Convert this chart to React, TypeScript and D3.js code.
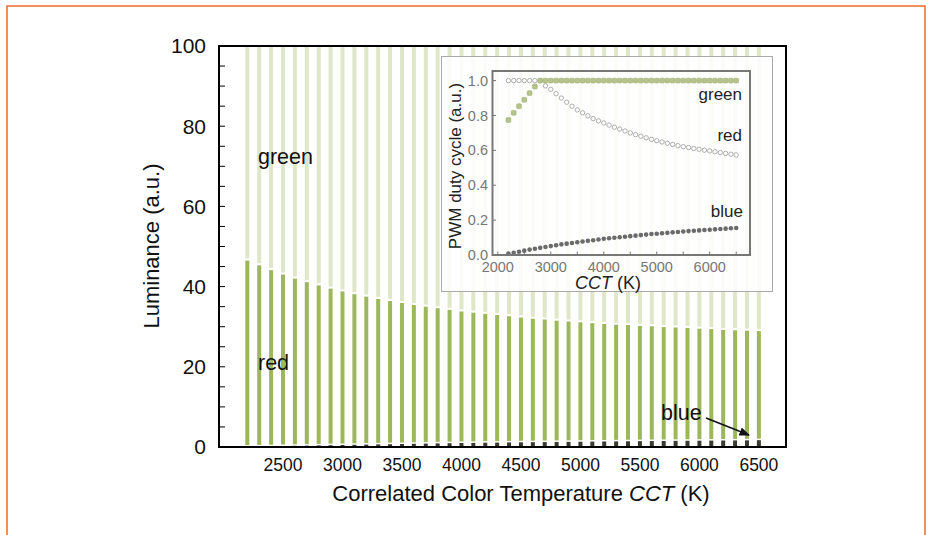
import React from 'react'
import * as d3 from 'd3'

// CCT categories (K), one bar / one marker each
const cct = [
  2200, 2300, 2400, 2500, 2600, 2700, 2800, 2900, 3000, 3100, 3200,
  3300, 3400, 3500, 3600, 3700, 3800, 3900, 4000, 4100, 4200, 4300,
  4400, 4500, 4600, 4700, 4800, 4900, 5000, 5100, 5200, 5300, 5400,
  5500, 5600, 5700, 5800, 5900, 6000, 6100, 6200, 6300, 6400, 6500
]

// luminance share of each LED (a.u.), green is the rest up to 100
const blueLum = [
  0.1, 0.15, 0.2, 0.25, 0.3, 0.35, 0.4, 0.45, 0.5, 0.55, 0.6,
  0.65, 0.7, 0.75, 0.8, 0.85, 0.9, 0.95, 1.0, 1.03, 1.07, 1.1,
  1.14, 1.17, 1.2, 1.23, 1.26, 1.29, 1.32, 1.35, 1.38, 1.4, 1.43,
  1.46, 1.48, 1.5, 1.53, 1.55, 1.57, 1.6, 1.62, 1.64, 1.66, 1.7
]
const redLum = [
  46.4, 45.15, 43.9, 42.75, 41.7, 40.75, 39.9, 39.05, 38.3, 37.55, 36.9,
  36.25, 35.7, 35.15, 34.6, 34.15, 33.7, 33.25, 32.8, 32.47, 32.13, 31.8,
  31.46, 31.13, 30.8, 30.57, 30.24, 30.01, 29.78, 29.55, 29.32, 29.1, 28.97,
  28.74, 28.62, 28.4, 28.27, 28.15, 27.93, 27.8, 27.58, 27.46, 27.34, 27.2
]

// inset: PWM duty cycles
const dutyGreen = [
  0.774, 0.815, 0.853, 0.89, 0.928, 0.966, 1, 1, 1, 1, 1,
  1, 1, 1, 1, 1, 1, 1, 1, 1, 1, 1,
  1, 1, 1, 1, 1, 1, 1, 1, 1, 1, 1,
  1, 1, 1, 1, 1, 1, 1, 1, 1, 1, 1
]
const dutyRed = [
  1, 1, 1, 1, 1, 1, 1, 0.97, 0.95, 0.925, 0.9,
  0.876, 0.853, 0.832, 0.815, 0.798, 0.782, 0.769, 0.757, 0.745, 0.733, 0.722,
  0.711, 0.7, 0.69, 0.681, 0.672, 0.663, 0.655, 0.648, 0.641, 0.634, 0.627,
  0.621, 0.616, 0.611, 0.606, 0.601, 0.597, 0.592, 0.587, 0.583, 0.578, 0.574
]
const dutyBlue = [
  0.008, 0.013, 0.019, 0.025, 0.031, 0.036, 0.041, 0.046, 0.051, 0.056, 0.061,
  0.065, 0.069, 0.073, 0.077, 0.081, 0.085, 0.089, 0.093, 0.096, 0.099, 0.102,
  0.105, 0.108, 0.111, 0.114, 0.117, 0.12, 0.122, 0.125, 0.127, 0.13, 0.132,
  0.135, 0.137, 0.139, 0.141, 0.143, 0.145, 0.147, 0.149, 0.151, 0.153, 0.155
]

const xTicks = [2500, 3000, 3500, 4000, 4500, 5000, 5500, 6000, 6500]
const yTicks = [0, 20, 40, 60, 80, 100]
const insetXTicks = [2000, 3000, 4000, 5000, 6000]
const insetYTicks = [0, 0.2, 0.4, 0.6, 0.8, 1.0]

const FONT = '"Liberation Sans", Arial, Helvetica, sans-serif'
const C_RED = '#9db85a'
const C_GREEN = '#dfe7c8'
const C_BLUE = '#3a3b30'

const App = () => {
  // main plot
  const x = d3.scaleLinear().domain([1962, 6728]).range([219, 786])
  const y = d3.scaleLinear().domain([0, 100]).range([447, 46])
  const barW = 4

  // inset plot
  const ix = d3.scaleLinear().domain([1900, 6760]).range([492.5, 750])
  const iy = d3.scaleLinear().domain([0, 1.055]).range([255, 71])
  const fmt = d3.format('.1f')

  return (
    <svg width={930} height={535} style={{position: 'absolute', left: 0, top: 0}}
      fontFamily={FONT}>
      <rect width={930} height={535} fill="#fff" />
      <path d="M7,540 V6 H925 V540" fill="none" stroke="#f26a2b" strokeWidth={1.5} />

      {/* stacked bars */}
      {cct.map((c, i) => {
        const b = blueLum[i]
        const r = redLum[i]
        const cx = x(c) - barW / 2
        return (
          <g key={c}>
            <rect x={cx} y={y(b)} width={barW} height={y(0) - y(b)} fill={C_BLUE} />
            <rect x={cx} y={y(b + r)} width={barW} height={Math.max(0, y(b) - y(b + r) - 1.5)} fill={C_RED} />
            <rect x={cx} y={y(100)} width={barW} height={y(b + r) - y(100) - 2} fill={C_GREEN} />
          </g>
        )
      })}

      {/* y ticks, inward every 5 */}
      {d3.range(5, 100, 5).map(t => (
        <line key={t} x1={219} x2={225} y1={y(t)} y2={y(t)} stroke="#000" strokeWidth={1} />
      ))}
      {yTicks.map(t => (
        <text key={t} x={206} y={y(t)} dy="0.35em" textAnchor="end" fontSize={21} fill="#111">{t}</text>
      ))}
      {xTicks.map(t => (
        <text key={t} x={x(t)} y={465} dy="0.35em" textAnchor="middle" fontSize={17.5} fill="#111">{t}</text>
      ))}
      <rect x={219} y={46} width={567} height={401} fill="none" stroke="#000" strokeWidth={2} />

      <text x={521} y={493} dy="0.35em" textAnchor="middle" fontSize={22} fill="#111">
        Correlated Color Temperature <tspan fontStyle="italic">CCT</tspan> (K)
      </text>
      <text transform="translate(151,246) rotate(-90)" dy="0.35em" textAnchor="middle" fontSize={22} fill="#111">
        Luminance (a.u.)
      </text>

      <text x={258} y={164} fontSize={21.5} fill="#111">green</text>
      <text x={258} y={370} fontSize={21.5} fill="#111">red</text>
      <text x={661} y={420} fontSize={21.5} fill="#111">blue</text>
      <defs>
        <marker id="arr" viewBox="0 0 10 10" refX={9} refY={5} markerWidth={7} markerHeight={7} orient="auto">
          <path d="M0,1 L10,5 L0,9 z" fill="#111" />
        </marker>
      </defs>
      <line x1={706} y1={418} x2={749} y2={435} stroke="#111" strokeWidth={1.5} markerEnd="url(#arr)" />

      {/* inset */}
      <rect x={441.5} y={56.5} width={331} height={235} fill="#fff" fillOpacity={0.86} stroke="#aaa" strokeWidth={1} />
      {insetYTicks.map(t => (
        <g key={t}>
          <line x1={492.5} x2={496} y1={iy(t)} y2={iy(t)} stroke="#777" />
          <text x={488} y={iy(t)} dy="0.35em" textAnchor="end" fontSize={14.5} fill="#777">{fmt(t)}</text>
        </g>
      ))}
      {d3.range(2000, 6600, 500).map(t => (
        <line key={t} x1={ix(t)} x2={ix(t)} y1={255} y2={251.5} stroke="#777" />
      ))}
      {insetXTicks.map(t => (
        <text key={t} x={ix(t)} y={267} dy="0.35em" textAnchor="middle" fontSize={14.5} fill="#777">{t}</text>
      ))}
      <text transform="translate(455,166) rotate(-90)" dy="0.35em" textAnchor="middle" fontSize={17} fill="#222">
        PWM duty cycle (a.u.)
      </text>
      <text x={608} y={283} dy="0.35em" textAnchor="middle" fontSize={18} fill="#222">
        <tspan fontStyle="italic">CCT</tspan> (K)
      </text>

      {cct.map((c, i) => (
        <circle key={'b' + c} cx={ix(c)} cy={iy(dutyBlue[i])} r={2.3} fill="#6b6b6b" />
      ))}
      {cct.map((c, i) => (
        <circle key={'r' + c} cx={ix(c)} cy={iy(dutyRed[i])} r={2.2} fill="#fff" stroke="#9a9a9a" strokeWidth={0.8} />
      ))}
      {cct.map((c, i) => (
        <rect key={'g' + c} x={ix(c) - 2.4} y={iy(dutyGreen[i]) - 2.4} width={4.8} height={4.8} rx={1.2}
          fill="#b6c48a" stroke="#a0af76" strokeWidth={0.6} />
      ))}
      <rect x={492.5} y={71} width={257.5} height={184} fill="none" stroke="#777" strokeWidth={2} />

      <text x={742} y={100} textAnchor="end" fontSize={17} fill="#222">green</text>
      <text x={742} y={141} textAnchor="end" fontSize={17} fill="#222">red</text>
      <text x={743} y={217} textAnchor="end" fontSize={17} fill="#222">blue</text>
    </svg>
  )
}

export default App
